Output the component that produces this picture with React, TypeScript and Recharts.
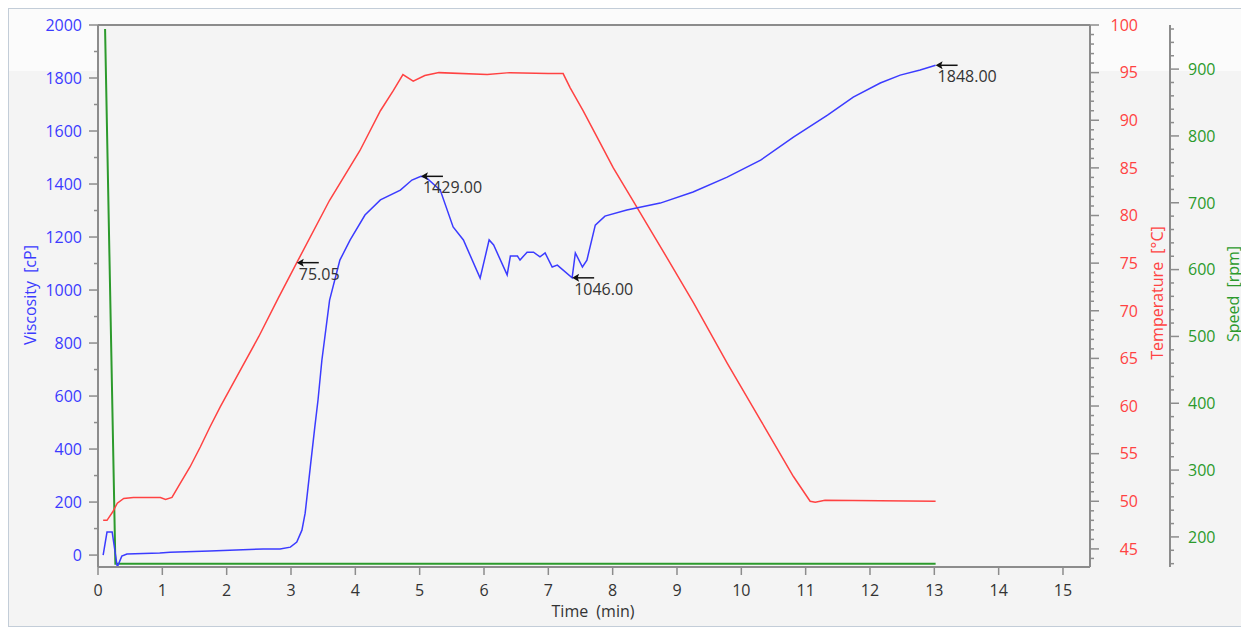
import React from "react";
import {
  CartesianGrid,
  Line,
  LineChart,
  ReferenceDot,
  ReferenceLine,
  XAxis,
  YAxis,
} from "recharts";

// viscosity (cP) vs time (min)
const viscTime = [
  0.08, 0.14, 0.22, 0.3, 0.37, 0.45, 0.96, 1.12, 1.74, 2.57, 2.83, 2.99, 3.09, 3.17, 3.22,
  3.3, 3.37, 3.42, 3.48, 3.6, 3.76, 3.92, 4.15, 4.39, 4.7, 4.88, 5.02, 5.1, 5.32, 5.52,
  5.68, 5.94, 6.08, 6.15, 6.36, 6.41, 6.52, 6.56, 6.67, 6.77, 6.87, 6.95, 7.06, 7.14,
  7.37, 7.42, 7.53, 7.6, 7.73, 7.88, 8.22, 8.74, 9.25, 9.78, 10.3, 10.81, 11.34, 11.74,
  12.16, 12.47, 12.78, 13.02,
];
const viscValues = [
  0, 87, 87, -45, -4, 4, 8, 11, 15, 23, 23, 30, 49, 94, 158,
  332, 483, 585, 735, 962, 1113, 1189, 1283, 1340, 1377, 1415, 1429, 1425, 1377, 1238,
  1189, 1045, 1189, 1170, 1057, 1128, 1128, 1113, 1143, 1143, 1125, 1140, 1087, 1094,
  1046, 1140, 1087, 1113, 1245, 1279, 1302, 1328, 1370, 1426, 1490, 1577, 1660, 1728,
  1781, 1811, 1830, 1848,
];

// temperature (°C) vs time (min)
const tempTime = [
  0.08, 0.14, 0.23, 0.3, 0.4, 0.55, 0.97, 1.05, 1.15, 1.28, 1.43, 1.59, 1.74, 1.9, 2.2,
  2.5, 2.8, 3.09, 3.6, 4.07, 4.39, 4.59, 4.74, 4.9, 5.08, 5.3, 6.05, 6.4, 7.0, 7.23,
  7.34, 7.54, 7.76, 8.01, 8.32, 8.63, 8.85, 9.26, 9.78, 10.3, 10.81, 11.07, 11.15, 11.3,
  13.02,
];
const tempValues = [
  48.0, 48.0, 48.9, 49.8, 50.3, 50.4, 50.4, 50.2, 50.4, 51.9, 53.6, 55.7, 57.8, 59.9, 63.6,
  67.3, 71.3, 75.05, 81.6, 86.8, 91.0, 93.1, 94.8, 94.1, 94.7, 95.0, 94.8, 95.0, 94.9, 94.9,
  93.4, 91.0, 88.2, 85.0, 81.5, 78.0, 75.5, 70.8, 64.5, 58.5, 52.6, 50.0, 49.9, 50.1,
  50.0,
];

// speed (rpm) vs time (min)
const speedTime = [0.11, 0.27, 13.02];
const speedValues = [960, 160, 160];

const timeTicks = [0, 1, 2, 3, 4, 5, 6, 7, 8, 9, 10, 11, 12, 13, 14, 15];

// labelled points: [time, value, label]
const viscMarks: [number, number, string][] = [
  [5.02, 1429, "1429.00"],
  [7.37, 1046, "1046.00"],
  [13.02, 1848, "1848.00"],
];
const tempMarks: [number, number, string][] = [[3.09, 75.05, "75.05"]];

const range = (a: number, b: number, step: number) => {
  const out: number[] = [];
  for (let v = a; v <= b + 1e-9; v += step) out.push(Math.round(v * 100) / 100);
  return out;
};

const viscData = viscTime.map((t, i) => ({ t, v: viscValues[i] }));
const tempData = tempTime.map((t, i) => ({ t, v: tempValues[i] }));
const speedData = speedTime.map((t, i) => ({ t, v: speedValues[i] }));

const FONT = "'Open Sans', 'Noto Sans', sans-serif";
const BLUE = "#3b3bff";
const RED = "#ff4242";
const GREEN = "#2c9a2c";
const AXIS = "#8c8c8c";

const makeTick =
  (side: "left" | "right", every: number, color: string, anchor: "start" | "end", textDx: number) =>
  (props: any) => {
    const { x, y, payload } = props;
    const major = Math.abs(payload.value % every) < 1e-6;
    const len = major ? 9 : 4;
    const dir = side === "left" ? -1 : 1;
    return (
      <g>
        <line x1={x} y1={y} x2={x + dir * len} y2={y} stroke={AXIS} strokeWidth={1.5} />
        {major && (
          <text
            x={x + textDx}
            y={y}
            dy="0.36em"
            textAnchor={anchor}
            fill={color}
            fontSize={16}
            fontFamily={FONT}
          >
            {payload.value}
          </text>
        )}
      </g>
    );
  };

const TimeTick = (props: any) => {
  const { x, y, payload } = props;
  return (
    <g>
      <line x1={x} y1={y} x2={x} y2={y + 8} stroke={AXIS} strokeWidth={1.5} />
      <text x={x} y={y + 23} dy="0.36em" textAnchor="middle" fill="#333" fontSize={16} fontFamily={FONT}>
        {payload.value}
      </text>
    </g>
  );
};

const markShape = (label: string) => (props: any) => {
  const { cx, cy } = props;
  return (
    <g>
      <line x1={cx + 4} y1={cy} x2={cx + 22} y2={cy} stroke="#111" strokeWidth={1.5} />
      <path d={`M${cx},${cy} l7,-4 l-1.5,4 l1.5,4 z`} fill="#111" />
      <text x={cx + 2} y={cy + 17} fill="#333" fontSize={16} fontFamily={FONT}>
        {label}
      </text>
    </g>
  );
};

const title = (text: string, color: string, left: number, top: number, rotate: boolean) => (
  <div
    style={{
      position: "absolute",
      left,
      top,
      transform: `translate(-50%, -50%)${rotate ? " rotate(-90deg)" : ""}`,
      color,
      fontFamily: FONT,
      fontSize: 16,
      lineHeight: "18px",
      whiteSpace: "nowrap",
      wordSpacing: 4,
    }}
  >
    {text}
  </div>
);

export default function App() {
  return (
    <div
      style={{
        position: "relative",
        width: 1241,
        height: 619,
        background: "linear-gradient(to bottom, #fbfbfb 0px, #fbfbfb 63px, #f4f4f4 63px)",
      }}
    >
      <LineChart width={1241} height={619} margin={{ top: 17, right: 0, bottom: 0, left: 0 }}>
        <CartesianGrid horizontal={false} vertical={false} fill="#f4f4f4" />
        <XAxis
          type="number"
          dataKey="t"
          domain={[0, 15.42]}
          ticks={timeTicks}
          interval={0}
          height={60}
          allowDataOverflow
          stroke={AXIS}
          strokeWidth={2}
          tickLine={false}
          tickSize={0}
          tickMargin={0}
          tick={TimeTick}
        />
        <YAxis
          yAxisId="l1"
          orientation="left"
          width={90}
          domain={[-45, 2000]}
          ticks={range(0, 2000, 100)}
          interval={0}
          allowDataOverflow
          stroke={AXIS}
          strokeWidth={2}
          tickLine={false}
          tickSize={0}
          tickMargin={0}
          tick={makeTick("left", 200, BLUE, "end", -16)}
        />
        <YAxis
          yAxisId="r1"
          orientation="right"
          width={80}
          domain={[43.1, 100]}
          ticks={range(44, 100, 1)}
          interval={0}
          allowDataOverflow
          stroke={AXIS}
          strokeWidth={2}
          tickLine={false}
          tickSize={0}
          tickMargin={0}
          tick={makeTick("right", 5, RED, "end", 48)}
        />
        <YAxis
          yAxisId="r2"
          orientation="right"
          width={79}
          domain={[155, 966]}
          ticks={range(160, 960, 20)}
          interval={0}
          allowDataOverflow
          stroke={AXIS}
          strokeWidth={2}
          tickLine={false}
          tickSize={0}
          tickMargin={0}
          tick={makeTick("right", 100, GREEN, "start", 18)}
        />
        <ReferenceLine yAxisId="l1" y={2000} stroke={AXIS} strokeWidth={2} />
        <Line
          yAxisId="r2"
          data={speedData}
          dataKey="v"
          stroke={GREEN}
          strokeWidth={2}
          dot={false}
          isAnimationActive={false}
        />
        <Line
          yAxisId="r1"
          data={tempData}
          dataKey="v"
          stroke={RED}
          strokeWidth={1.5}
          dot={false}
          isAnimationActive={false}
        />
        <Line
          yAxisId="l1"
          data={viscData}
          dataKey="v"
          stroke={BLUE}
          strokeWidth={1.5}
          dot={false}
          isAnimationActive={false}
        />
        {viscMarks.map(([t, v, label]) => (
          <ReferenceDot key={label} yAxisId="l1" x={t} y={v} shape={markShape(label)} />
        ))}
        {tempMarks.map(([t, v, label]) => (
          <ReferenceDot key={label} yAxisId="r1" x={t} y={v} shape={markShape(label)} />
        ))}
      </LineChart>
      {title("Viscosity [cP]", BLUE, 22, 287, true)}
      {title("Temperature [°C]", RED, 1149, 285, true)}
      {title("Speed [rpm]", GREEN, 1225, 286, true)}
      {title("Time (min)", "#333", 585, 603, false)}
      <div
        style={{
          position: "absolute",
          inset: 0,
          border: "1px solid #c3cdd8",
          pointerEvents: "none",
        }}
      />
    </div>
  );
}
